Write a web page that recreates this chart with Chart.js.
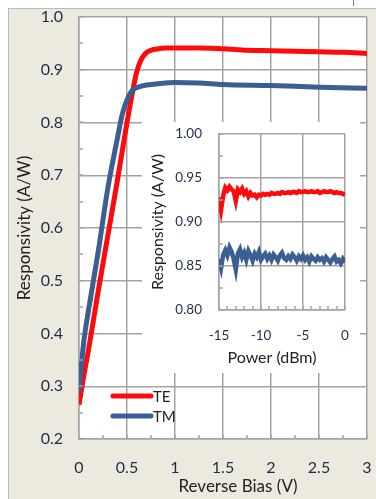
<!DOCTYPE html>
<html>
<head>
<meta charset="utf-8">
<script src="https://cdn.jsdelivr.net/npm/chart.js@4/dist/chart.umd.min.js"></script>
<style>
  html, body { margin: 0; padding: 0; background: #fff; }
  #wrap { position: relative; width: 376px; height: 499px; overflow: hidden; }
  #panel { position: absolute; left: 8px; top: 8px; width: 368px; height: 491px;
           background: #ece9df; border-left: 1px solid #b9b9b9; border-top: 1px solid #b9b9b9; box-sizing: border-box; }
  #notch { position: absolute; left: 353px; top: 0; width: 1px; height: 6px; background: #777; }
  #mainBox { position: absolute; left: 0; top: 0; width: 376px; height: 499px; }
  #insetBox { position: absolute; left: 142px; top: 122px; width: 218px; height: 251px; background: #fff; }
</style>
</head>
<body>
<div id="wrap">
  <div id="panel"></div>
  <div id="notch"></div>
  <div id="mainBox"><canvas id="mainChart"></canvas></div>
  <div id="insetBox"><canvas id="insetChart"></canvas></div>
</div>
<script>
// main chart: responsivity vs reverse bias
var biasTE = [0, 0.05, 0.1, 0.2, 0.3, 0.4, 0.5, 0.55, 0.6, 0.65, 0.7, 0.75, 0.8, 0.9, 1.0, 1.25, 1.5, 1.75, 2.0, 2.25, 2.5, 2.75, 3.0];
var respTE = [0.265, 0.32, 0.37, 0.48, 0.585, 0.69, 0.80, 0.85, 0.895, 0.92, 0.932, 0.937, 0.939, 0.941, 0.941, 0.941, 0.94, 0.937, 0.936, 0.935, 0.934, 0.933, 0.931];
var biasTM = [0, 0.05, 0.1, 0.2, 0.3, 0.4, 0.45, 0.5, 0.55, 0.6, 0.7, 0.8, 1.0, 1.25, 1.5, 2.0, 2.5, 3.0];
var respTM = [0.29, 0.385, 0.445, 0.555, 0.675, 0.77, 0.815, 0.843, 0.86, 0.866, 0.871, 0.873, 0.876, 0.875, 0.872, 0.870, 0.867, 0.865];

// inset: responsivity vs optical power
var power = [-15, -14.75, -14.5, -14.25, -14, -13.75, -13.5, -13.25, -13, -12.75, -12.5, -12.25, -12, -11.75, -11.5, -11.25,
             -11, -10.75, -10.5, -10.25, -10, -9.75, -9.5, -9.25, -9, -8.75, -8.5, -8.25, -8, -7.75, -7.5, -7.25,
             -7, -6.75, -6.5, -6.25, -6, -5.75, -5.5, -5.25, -5, -4.75, -4.5, -4.25, -4, -3.75, -3.5, -3.25,
             -3, -2.75, -2.5, -2.25, -2, -1.75, -1.5, -1.25, -1, -0.75, -0.5, -0.25, 0];
var insetTE = [0.928, 0.914, 0.93, 0.939, 0.936, 0.94, 0.937, 0.935, 0.924, 0.937, 0.934, 0.938, 0.932, 0.935, 0.929, 0.933,
               0.93, 0.931, 0.928, 0.931, 0.93, 0.932, 0.931, 0.932, 0.931, 0.933, 0.932, 0.932, 0.933, 0.932, 0.934, 0.933,
               0.933, 0.934, 0.933, 0.934, 0.934, 0.933, 0.935, 0.934, 0.934, 0.935, 0.934, 0.934, 0.935, 0.934, 0.934, 0.935,
               0.933, 0.934, 0.935, 0.934, 0.934, 0.935, 0.934, 0.933, 0.934, 0.933, 0.933, 0.932, 0.931];
var insetTM = [0.858, 0.848, 0.863, 0.868, 0.862, 0.871, 0.866, 0.858, 0.846, 0.864, 0.869, 0.86, 0.865, 0.857, 0.867, 0.862,
               0.856, 0.864, 0.86, 0.866, 0.857, 0.861, 0.864, 0.858, 0.862, 0.857, 0.863, 0.86, 0.856, 0.862, 0.865, 0.859,
               0.857, 0.861, 0.858, 0.863, 0.86, 0.856, 0.861, 0.858, 0.862, 0.857, 0.86, 0.855, 0.861, 0.858, 0.856, 0.86,
               0.857, 0.859, 0.855, 0.86, 0.857, 0.854, 0.858, 0.861, 0.855, 0.857, 0.853, 0.858, 0.854];

var mainXTicks = [0, 0.5, 1, 1.5, 2, 2.5, 3];
var mainYTicks = [0.2, 0.3, 0.4, 0.5, 0.6, 0.7, 0.8, 0.9, 1.0];
var insetXTicks = [-15, -10, -5, 0];
var insetYTicks = [0.80, 0.85, 0.90, 0.95, 1.00];
var seriesNames = ['TE', 'TM'];

var RED = '#ff0a0a';
var BLUE = '#3b5f93';
var GRID = '#a3a3a3';
var TICKCOL = '#1f2c48';
var FONT = 'Lato, "Open Sans", sans-serif';

function pts(xs, ys) {
    return xs.map(function (x, i) { return { x: x, y: ys[i] }; });
}

// white plot area, minor inner ticks, free-placed titles and legend
var extras = {
    id: 'extras',
    beforeDraw: function (chart) {
        var a = chart.chartArea, ctx = chart.ctx;
        ctx.save();
        ctx.fillStyle = '#fff';
        ctx.fillRect(a.left, a.top, a.right - a.left, a.bottom - a.top);
        ctx.restore();
    },
    afterDatasetsDraw: function (chart, args, opts) {
        var ctx = chart.ctx, a = chart.chartArea;
        var xs = chart.scales.x, ys = chart.scales.y;
        ctx.save();
        ctx.strokeStyle = GRID;
        ctx.lineWidth = 1.5;
        if (opts.minorX) {
            for (var v = xs.min; v <= xs.max + 1e-9; v += opts.minorX) {
                var px = Math.round(xs.getPixelForValue(v));
                ctx.beginPath(); ctx.moveTo(px, a.bottom); ctx.lineTo(px, a.bottom - 4); ctx.stroke();
            }
        }
        if (opts.minorY) {
            for (var w = ys.min; w <= ys.max + 1e-9; w += opts.minorY) {
                var py = Math.round(ys.getPixelForValue(w));
                ctx.beginPath(); ctx.moveTo(a.left, py); ctx.lineTo(a.left + 4, py); ctx.stroke();
            }
        }
        ctx.restore();
    },
    afterDraw: function (chart, args, opts) {
        var ctx = chart.ctx;
        ctx.save();
        if (opts.xTitle) {
            ctx.font = opts.xTitle.size + 'px ' + FONT;
            ctx.fillStyle = '#222';
            ctx.textAlign = 'center';
            ctx.textBaseline = 'middle';
            ctx.fillText(opts.xTitle.text, opts.xTitle.x, opts.xTitle.y);
        }
        if (opts.legend) {
            var lg = opts.legend;
            chart.data.datasets.forEach(function (ds, i) {
                var y = lg.y + i * lg.gap;
                ctx.strokeStyle = ds.borderColor;
                ctx.lineWidth = 5;
                ctx.lineCap = 'round';
                ctx.beginPath(); ctx.moveTo(lg.x, y); ctx.lineTo(lg.x + 38, y); ctx.stroke();
                ctx.font = '15px ' + FONT;
                ctx.fillStyle = '#222';
                ctx.textAlign = 'left';
                ctx.textBaseline = 'middle';
                ctx.fillText(ds.label, lg.x + 40, y + 1);
            });
        }
        ctx.restore();
    }
};

function fixedTicks(list, digits) {
    return function (scale) {
        scale.ticks = list.map(function (v) { return { value: v, label: v.toFixed(digits) }; });
    };
}

// fixed axis box size, no extra room for overhanging labels
function boxSize(w, h) {
    return function (s) {
        if (w) s.width = w;
        if (h) s.height = h;
        s.paddingLeft = 0; s.paddingRight = 0; s.paddingTop = 0; s.paddingBottom = 0;
    };
}

new Chart(document.getElementById('mainChart'), {
    type: 'scatter',
    data: {
        datasets: [
            { label: seriesNames[0], data: pts(biasTE, respTE), showLine: true, borderColor: RED, borderWidth: 5,
              pointRadius: 0, cubicInterpolationMode: 'monotone', order: 2 },
            { label: seriesNames[1], data: pts(biasTM, respTM), showLine: true, borderColor: BLUE, borderWidth: 5,
              pointRadius: 0, cubicInterpolationMode: 'monotone', order: 1 }
        ]
    },
    options: {
        responsive: true,
        maintainAspectRatio: false,
        animation: false,
        layout: { padding: { left: 0, top: 17, right: 9, bottom: 0 } },
        plugins: {
            legend: { display: false },
            tooltip: { enabled: false },
            extras: { minorX: 0.25, minorY: 0.05, xTitle: { text: 'Reverse Bias (V)', x: 238, y: 487, size: 17 },
                      legend: { x: 113, y: 396, gap: 20 } }
        },
        scales: {
            x: {
                type: 'linear', min: 0, max: 3,
                afterBuildTicks: function (s) { s.ticks = mainXTicks.map(function (v) { return { value: v }; }); },
                afterFit: boxSize(0, 60),
                grid: { color: GRID, lineWidth: 1.5, drawTicks: false },
                border: { color: GRID, width: 1.5 },
                ticks: { color: TICKCOL, font: { family: FONT, size: 16 }, padding: 19, maxRotation: 0,
                         callback: function (v) { return String(v); } }
            },
            y: {
                min: 0.2, max: 1.0,
                afterBuildTicks: fixedTicks(mainYTicks, 1),
                afterFit: boxSize(79, 0),
                grid: { color: GRID, lineWidth: 1.5, drawTicks: false },
                border: { color: GRID, width: 1.5 },
                ticks: { color: TICKCOL, font: { family: FONT, size: 16 }, padding: 16,
                         callback: function (v) { return v.toFixed(1); } },
                title: { display: true, text: 'Responsivity (A/W)', color: '#222', font: { family: FONT, size: 17 },
                         padding: { top: 14, bottom: 0 } }
            }
        }
    },
    plugins: [extras]
});

new Chart(document.getElementById('insetChart'), {
    type: 'scatter',
    data: {
        datasets: [
            { label: seriesNames[0], data: pts(power, insetTE), showLine: true, borderColor: RED, borderWidth: 4.5,
              pointRadius: 0, tension: 0 },
            { label: seriesNames[1], data: pts(power, insetTM), showLine: true, borderColor: BLUE, borderWidth: 4.5,
              pointRadius: 0, tension: 0 }
        ]
    },
    options: {
        responsive: true,
        maintainAspectRatio: false,
        animation: false,
        layout: { padding: { left: 0, top: 12, right: 15, bottom: 0 } },
        plugins: {
            legend: { display: false },
            tooltip: { enabled: false },
            extras: { minorX: 1, minorY: 0.025, xTitle: { text: 'Power (dBm)', x: 130, y: 236, size: 16 } }
        },
        scales: {
            x: {
                type: 'linear', min: -15, max: 0,
                afterBuildTicks: function (s) { s.ticks = insetXTicks.map(function (v) { return { value: v }; }); },
                afterFit: boxSize(0, 63),
                grid: { color: GRID, lineWidth: 1.5, drawTicks: false },
                border: { color: GRID, width: 1.5 },
                ticks: { color: TICKCOL, font: { family: FONT, size: 13.5 }, padding: 18, maxRotation: 0,
                         callback: function (v) { return String(v); } }
            },
            y: {
                min: 0.8, max: 1.0,
                afterBuildTicks: fixedTicks(insetYTicks, 2),
                afterFit: boxSize(77, 0),
                grid: { color: GRID, lineWidth: 1.5, drawTicks: false },
                border: { color: GRID, width: 1.5 },
                ticks: { color: TICKCOL, font: { family: FONT, size: 13.5 }, padding: 17,
                         callback: function (v) { return v.toFixed(2); } },
                title: { display: true, text: 'Responsivity (A/W)', color: '#222', font: { family: FONT, size: 16 },
                         padding: { top: 6, bottom: 0 } }
            }
        }
    },
    plugins: [extras]
});
</script>
</body>
</html>
